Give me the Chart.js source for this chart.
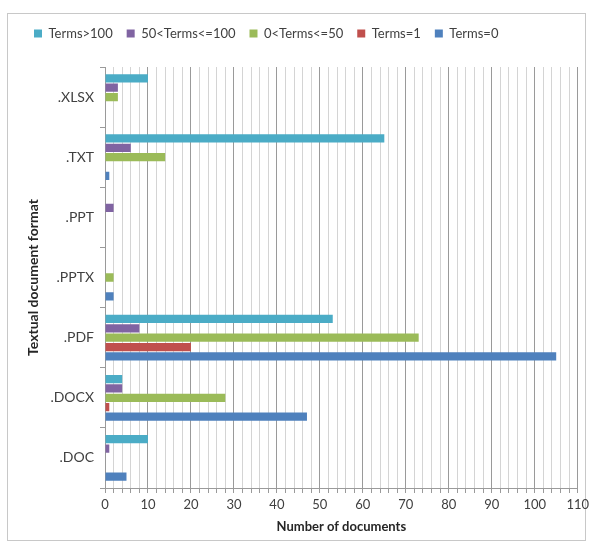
<!DOCTYPE html>
<html>
<head>
<meta charset="utf-8">
<script src="https://cdn.jsdelivr.net/npm/chart.js@4/dist/chart.umd.min.js"></script>
<style>
  html, body { margin: 0; padding: 0; background: #fff; }
  #wrap { width: 593px; height: 543px; position: relative; }
</style>
</head>
<body>
<div id="wrap"><canvas id="chart" width="593" height="543"></canvas></div>
<script>
// categories, top to bottom
var formats = ['.XLSX', '.TXT', '.PPT', '.PPTX', '.PDF', '.DOCX', '.DOC'];

// series values (number of documents)
var termsOver100   = [10, 65, 0, 0, 53, 4, 10];
var terms50to100   = [3, 6, 2, 0, 8, 4, 1];
var terms0to50     = [3, 14, 0, 2, 73, 28, 0];
var termsEq1       = [0, 0, 0, 0, 20, 1, 0];
var termsEq0       = [0, 1, 0, 2, 105, 47, 5];

var seriesNames = ['Terms>100', '50<Terms<=100', '0<Terms<=50', 'Terms=1', 'Terms=0'];
var seriesColors = ['#4BACC6', '#8064A2', '#9BBB59', '#C0504D', '#4F81BD'];
var seriesData = [termsOver100, terms50to100, terms0to50, termsEq1, termsEq0];

var xMin = 0, xMax = 110, xMinor = 2, xMajor = 10;

var font = "Lato, 'Open Sans', sans-serif";

// outer frame like the spreadsheet chart area
var framePlugin = {
  id: 'frame',
  beforeDraw: function(chart){
    var c = chart.ctx;
    c.save();
    c.strokeStyle = '#c8c8c8';
    c.lineWidth = 1;
    c.strokeRect(7.5, 13.5, 578, 527);
    c.restore();
  }
};

// fix legend height so the plot starts where it does in the picture
var legendHeight = {
  id: 'legendHeight',
  beforeLayout: function(chart){
    var lg = chart.legend;
    if (lg && !lg._fixed) {
      var fit = lg.fit;
      lg.fit = function(){ fit.call(this); this.height = 54; };
      lg._fixed = true;
    }
  }
};

var datasets = seriesNames.map(function(name, i){
  return {
    label: name,
    data: seriesData[i],
    backgroundColor: seriesColors[i],
    borderWidth: 0,
    categoryPercentage: 0.78,
    barPercentage: 0.88
  };
});

new Chart(document.getElementById('chart').getContext('2d'), {
  type: 'bar',
  data: { labels: formats, datasets: datasets },
  plugins: [framePlugin, legendHeight],
  options: {
    indexAxis: 'y',
    responsive: false,
    animation: false,
    layout: { padding: { left: 20, right: 15, top: 13, bottom: 8 } },
    plugins: {
      tooltip: { enabled: false },
      legend: {
        position: 'top',
        align: 'start',
        labels: {
          boxWidth: 8,
          boxHeight: 8,
          padding: 14,
          color: '#404040',
          font: { family: font, size: 13 }
        }
      }
    },
    scales: {
      x: {
        min: xMin,
        max: xMax,
        afterFit: function(s){ s.height = 47; },
        ticks: {
          stepSize: xMinor,
          autoSkip: false,
          maxRotation: 0,
          color: '#404040',
          padding: 4,
          font: { family: font, size: 13 },
          callback: function(v){ return v % xMajor === 0 ? v : ''; }
        },
        grid: {
          drawOnChartArea: true,
          tickLength: 5,
          color: function(ctx){
            return ctx.tick && ctx.tick.value % xMajor === 0 ? '#9a9a9a' : '#d4d4d4';
          },
          tickColor: '#9a9a9a'
        },
        border: { color: '#9a9a9a' },
        title: {
          display: true,
          text: 'Number of documents',
          color: '#262626',
          font: { family: font, size: 13, weight: 'bold' },
          padding: { top: 2, bottom: 0 }
        }
      },
      y: {
        afterFit: function(s){ s.width = 85; },
        ticks: {
          color: '#404040',
          padding: 6,
          font: { family: font, size: 14 }
        },
        grid: {
          drawOnChartArea: false,
          tickLength: 5,
          tickColor: '#9a9a9a'
        },
        border: { color: '#9a9a9a' },
        title: {
          display: true,
          text: 'Textual document format',
          color: '#262626',
          font: { family: font, size: 14, weight: 'bold' },
          padding: { top: 5, bottom: 6 }
        }
      }
    }
  }
});
</script>
</body>
</html>
